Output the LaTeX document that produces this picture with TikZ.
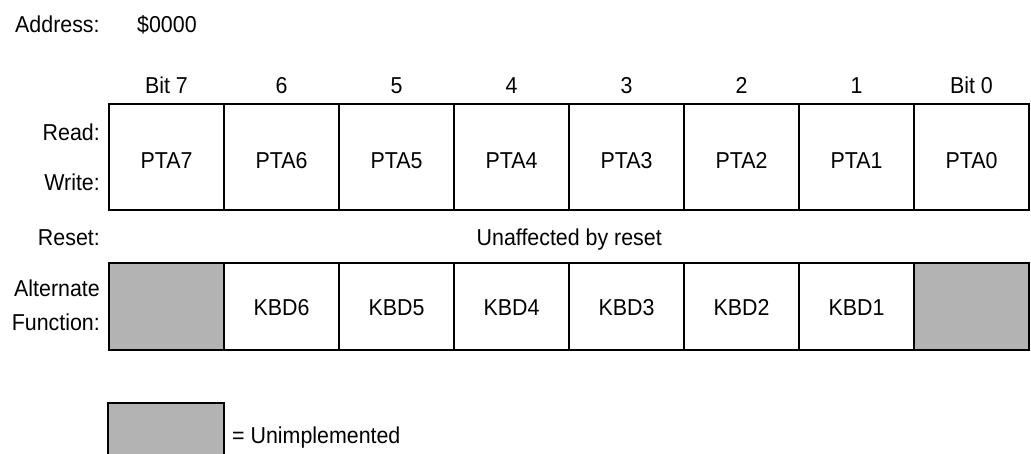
\documentclass[tikz,border=0pt]{standalone}
\usepackage{fontspec}
\setmainfont[FakeStretch=0.93]{Liberation Sans}
\definecolor{unimpl}{RGB}{179,179,179}
\begin{document}
\begin{tikzpicture}[x=1pt,y=-1pt,
  lbl/.style={font=\fontsize{23}{25}\selectfont, inner sep=0pt, anchor=base},
  rlbl/.style={lbl, anchor=base east},
  cell/.style={draw=black, line width=2pt, minimum width=115pt, minimum height=106pt, inner sep=0pt},
  acell/.style={cell, minimum height=87pt},
  gray/.style={fill=unimpl}]
\useasboundingbox (0,0) rectangle (1031,453);
\clip (0,0) rectangle (1031,453);
\node[lbl, anchor=base west] (addr) at (15,32) {Address:};
\node[lbl, anchor=base west] (addrv) at (137,32) {\$0000};
% bit headers
\foreach \i/\t in {0/Bit 7,1/6,2/5,3/4,4/3,5/2,6/1,7/Bit 0}{
  \node[lbl] (h\i) at ({109+115*(\i+0.5)},93) {\t};
}
% row labels
\node[rlbl] (read) at (100,140) {Read:};
\node[rlbl] (write) at (100,190) {Write:};
\node[rlbl] (reset) at (100,245) {Reset:};
\node[rlbl] (alt1) at (100,296) {Alternate};
\node[rlbl] (alt2) at (100,330) {Function:};
% read/write cells
\foreach \i/\t in {0/PTA7,1/PTA6,2/PTA5,3/PTA4,4/PTA3,5/PTA2,6/PTA1,7/PTA0}{
  \node[cell] (p\i) at ({109+115*(\i+0.5)},157) {};
  \node[lbl] (pt\i) at ({109+115*(\i+0.5)},168) {\t};
}
\node[lbl, anchor=base east] (unaff) at (662,245) {Unaffected by reset};
% alternate function cells
\node[acell, gray] (k0) at ({109+115*0.5},306.5) {};
\foreach \i/\t in {1/KBD6,2/KBD5,3/KBD4,4/KBD3,5/KBD2,6/KBD1}{
  \node[acell] (k\i) at ({109+115*(\i+0.5)},306.5) {};
  \node[lbl] (kt\i) at ({109+115*(\i+0.5)},315) {\t};
}
\node[acell, gray] (k7) at ({109+115*7.5},306.5) {};
% legend
\node[cell, gray, minimum width=116pt, minimum height=60pt] (leg) at (166,433) {};
\node[lbl, anchor=base west] (legt) at (232,443) {= Unimplemented};
\end{tikzpicture}
\end{document}
